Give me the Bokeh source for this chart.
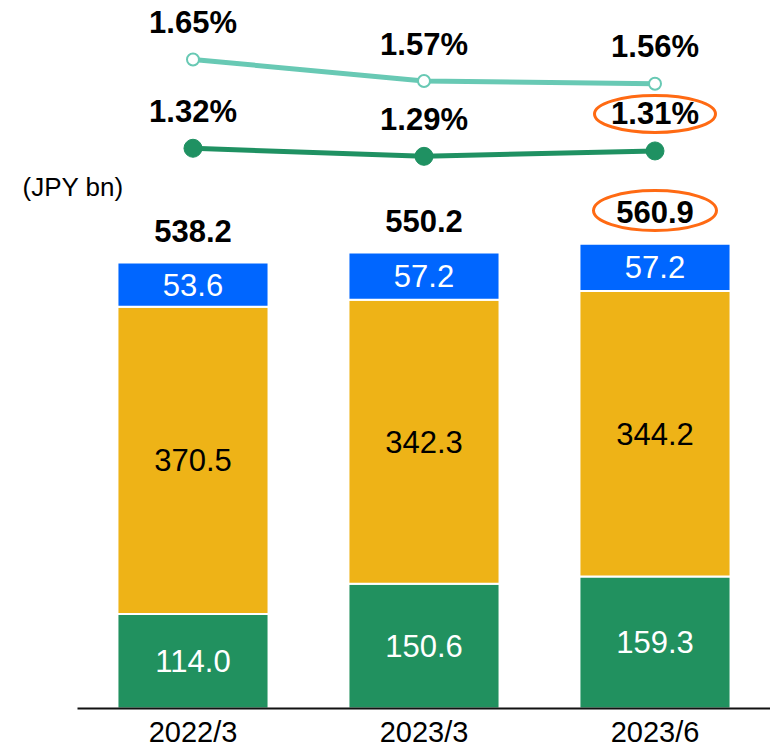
from bokeh.plotting import figure
from bokeh.models import Range1d, FixedTicker, ColumnDataSource, Label
from bokeh.core.properties import value
from bokeh.embed import file_html
from bokeh.resources import INLINE

# ---- data ----
periods = ["2022/3", "2023/3", "2023/6"]
green_vals = [114.0, 150.6, 159.3]
yellow_vals = [370.5, 342.3, 344.2]
blue_vals = [53.6, 57.2, 57.2]
totals = [538.2, 550.2, 560.9]
rate_upper = [1.65, 1.57, 1.56]
rate_lower = [1.32, 1.29, 1.31]
highlight_index = 2

# ---- style ----
FONT = value("Liberation Sans")
C_GREEN = "#21915F"
C_YELLOW = "#EEB317"
C_BLUE = "#0066FF"
C_TEAL = "#68C9B4"
C_DARK = "#1F9162"
C_ORANGE = "#FF6A13"

FRAME_W, FRAME_H = 770, 708
Y_END = 854.0
PCT_START, PCT_END = -0.7627, 1.8693
BN_PX = FRAME_H / Y_END
PCT_PX = FRAME_H / (PCT_END - PCT_START)

xs = list(range(len(periods)))

p = figure(frame_width=FRAME_W, frame_height=FRAME_H,
           min_border_left=0, min_border_right=0, min_border_top=0, min_border_bottom=0,
           x_range=Range1d(-0.8333, 2.5), y_range=Range1d(0, Y_END),
           output_backend="svg", toolbar_location=None)
p.extra_y_ranges = {"pct": Range1d(PCT_START, PCT_END)}
p.outline_line_color = None
p.xgrid.visible = False
p.ygrid.visible = False
p.yaxis.visible = False
p.background_fill_color = "white"
p.border_fill_color = "white"

ax = p.xaxis[0]
ax.ticker = FixedTicker(ticks=xs)
ax.bounds = (-0.5, 2.5)
ax.major_label_overrides = {i: lab for i, lab in enumerate(periods)}
ax.axis_line_color = "#111111"
ax.axis_line_width = 2
ax.major_tick_line_color = None
ax.minor_tick_line_color = None
ax.major_label_standoff = 1
ax.major_label_text_font = "Liberation Sans"
ax.major_label_text_font_size = "29px"
ax.major_label_text_color = "black"

src = ColumnDataSource(dict(x=xs, green=green_vals, yellow=yellow_vals, blue=blue_vals))
p.vbar_stack(["green", "yellow", "blue"], x="x", width=0.654, source=src,
             color=[C_GREEN, C_YELLOW, C_BLUE], line_color="white", line_width=2)

# segment labels
g_mid = [g / 2 for g in green_vals]
y_mid = [g + y / 2 for g, y in zip(green_vals, yellow_vals)]
b_mid = [g + y + b / 2 for g, y, b in zip(green_vals, yellow_vals, blue_vals)]
for mids, vals, col in [(g_mid, green_vals, "white"), (y_mid, yellow_vals, "black"), (b_mid, blue_vals, "white")]:
    p.text(x=xs, y=mids, text=[f"{v:.1f}" for v in vals], text_align="center", text_baseline="middle",
           text_font=FONT, text_font_size="31px", text_color=col)

# totals
p.text(x=xs, y=totals, text=[f"{v:.1f}" for v in totals], y_offset=-31,
       text_align="center", text_baseline="middle", text_font=FONT, text_font_size="31px",
       text_font_style="bold", text_color="black")

# rate lines
p.line(xs, rate_upper, y_range_name="pct", line_color=C_TEAL, line_width=5)
p.scatter(xs, rate_upper, y_range_name="pct", size=12, fill_color="white", line_color=C_TEAL, line_width=2)
p.line(xs, rate_lower, y_range_name="pct", line_color=C_DARK, line_width=5)
p.scatter(xs, rate_lower, y_range_name="pct", size=18, fill_color=C_DARK, line_color=C_DARK)

for vals in (rate_upper, rate_lower):
    p.text(x=xs, y=vals, text=[f"{v:.2f}%" for v in vals], y_offset=-37, y_range_name="pct",
           text_align="center", text_baseline="middle", text_font=FONT, text_font_size="31px",
           text_font_style="bold", text_color="black")

# highlight ellipses
h = highlight_index
p.ellipse(x=[xs[h]], y=[rate_lower[h] + 37 / PCT_PX], width=121, height=37,
          width_units="screen", height_units="screen", y_range_name="pct",
          fill_color=None, line_color=C_ORANGE, line_width=3)
p.ellipse(x=[xs[h]], y=[totals[h] + 33 / BN_PX], width=123, height=40,
          width_units="screen", height_units="screen",
          fill_color=None, line_color=C_ORANGE, line_width=3)

# unit label
p.add_layout(Label(x=-0.5, y=(FRAME_H - 186.5) / BN_PX, x_offset=-55, text="(JPY bn)",
                   text_baseline="middle", text_align="left", text_font="Liberation Sans",
                   text_font_size="26px", text_color="black"))

open("out.html", "w").write(file_html(p, INLINE))
